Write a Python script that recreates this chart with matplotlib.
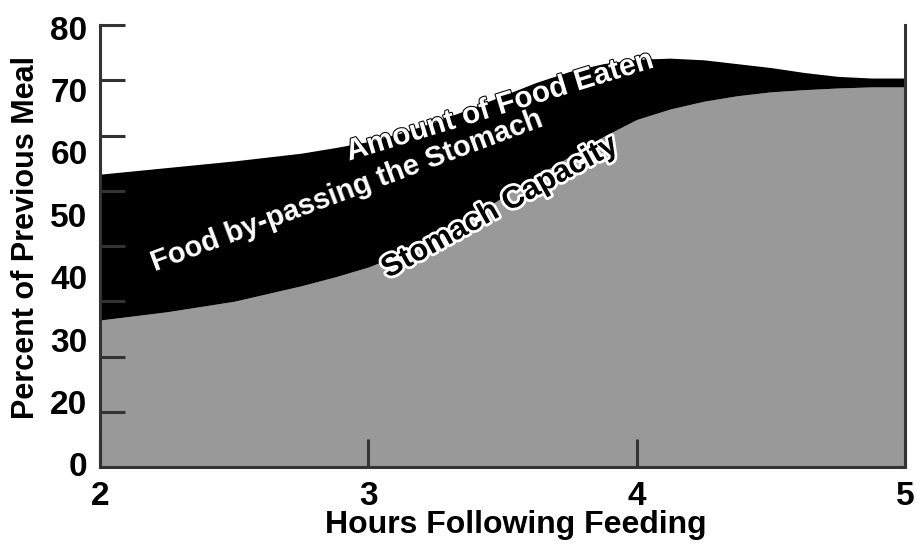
import numpy as np
import matplotlib.pyplot as plt
import matplotlib.patheffects as pe

# values (percent of previous meal)
hours = [2.0, 2.25, 2.5, 2.75, 2.875, 3.0, 3.125, 3.25, 3.375, 3.5, 3.625, 3.75,
         3.875, 4.0, 4.125, 4.25, 4.375, 4.5, 4.625, 4.75, 4.875, 5.0]
food_eaten = [53.0, 54.2, 55.4, 56.8, 57.8, 58.9, 60.5, 62.5, 64.8, 67.2, 69.6, 71.6,
              73.0, 73.8, 74.0, 73.7, 73.0, 72.3, 71.4, 70.7, 70.4, 70.4]
stomach_capacity = [26.6, 28.1, 30.0, 32.8, 34.4, 36.2, 38.6, 41.5, 45.0, 48.8, 52.6, 56.2,
                    59.8, 62.9, 64.8, 66.2, 67.2, 67.9, 68.3, 68.6, 68.8, 68.8]

ytick_labels = ['80', '70', '60', '50', '40', '30', '20', '0']
ytick_marks = [10, 20, 30, 40, 50, 60, 70, 80]
xticks = [2, 3, 4, 5]

plt.rcParams['font.family'] = ['Liberation Sans', 'DejaVu Sans']

fig = plt.figure(figsize=(9.24, 5.46), dpi=100)
ax = fig.add_axes([100/924, (546-467)/546, 805/924, 442/546])

gray = '#999999'
ax.fill_between(hours, 0, stomach_capacity, color=gray, lw=0)
ax.fill_between(hours, stomach_capacity, food_eaten, color='black', lw=0)

ax.set_xlim(2, 5)
ax.set_ylim(0, 80)

for s in ['left', 'bottom', 'right']:
    ax.spines[s].set_color('#333333')
    ax.spines[s].set_linewidth(2.2)
ax.spines['top'].set_visible(False)

# the labels in the original are spaced evenly, not at their ticks
ax.set_yticks(np.linspace(79.5, 0.5, len(ytick_labels)))
ax.set_yticklabels(ytick_labels)
ax.set_yticks(ytick_marks, minor=True)
ax.tick_params(axis='y', which='major', length=0, pad=9, labelsize=24)
ax.tick_params(axis='y', which='minor', direction='in', length=18, width=2.2, color='#333333')
for t in ax.get_yticklabels():
    t.set_fontweight('bold')

ax.set_xticks(xticks)
ax.set_xticklabels([str(x) for x in xticks])
ax.tick_params(axis='x', direction='in', length=20, width=2.2, color='#333333', pad=10, labelsize=24)
for t in ax.get_xticklabels():
    t.set_fontweight('bold')

ax.set_xlabel('Hours Following Feeding', fontsize=23, fontweight='bold')
ax.set_ylabel('Percent of Previous Meal', fontsize=22, fontweight='bold')
ax.xaxis.set_label_coords(0.516, -0.098)
ax.yaxis.set_label_coords(-0.073, 0.52)

ax.text(3.49, 65.3, 'Amount of Food Eaten', color='white', fontsize=21.5, fontweight='bold',
        rotation=17, ha='center', va='center',
        path_effects=[pe.withStroke(linewidth=1.5, foreground='black')])
ax.text(2.92, 50.0, 'Food by-passing the Stomach', color='white', fontsize=21, fontweight='bold',
        rotation=20.5, ha='center', va='center')
ax.text(3.49, 47.0, 'Stomach Capacity', color='black', fontsize=22, fontweight='bold',
        rotation=29, ha='center', va='center',
        path_effects=[pe.withStroke(linewidth=4, foreground='white')])

fig.savefig('out.png', dpi=100)
